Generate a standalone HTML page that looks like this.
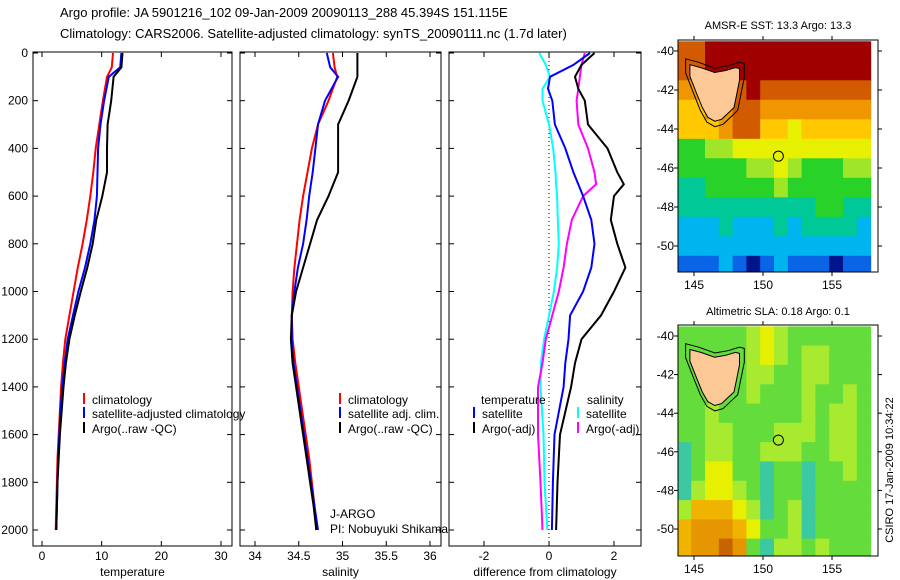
<!DOCTYPE html>
<html><head><meta charset="utf-8">
<style>
html,body{margin:0;padding:0;background:#fff;}
svg{display:block;font-family:"Liberation Sans",sans-serif;}
text{font-family:"Liberation Sans",sans-serif;}
</style></head>
<body>
<svg id="fig" width="900" height="580" viewBox="0 0 900 580">
<rect x="0" y="0" width="900" height="580" fill="#fff"/>
<text x="60" y="17" font-size="13">Argo profile: JA 5901216_102 09-Jan-2009 20090113_288 45.394S 151.115E</text>
<text x="60" y="38" font-size="13">Climatology: CARS2006. Satellite-adjusted climatology: synTS_20090111.nc (1.7d later)</text>
<text x="778" y="29" font-size="11" text-anchor="middle">AMSR-E SST: 13.3 Argo: 13.3</text>
<text x="778" y="315" font-size="11" text-anchor="middle">Altimetric SLA: 0.18 Argo: 0.1</text>
<text transform="translate(893,470) rotate(-90)" font-size="11" text-anchor="middle">CSIRO 17-Jan-2009 10:34:22</text>
<g id="plots"></g>
</svg>
<script>
// ---------- profile data ----------
const depths = [0,60,100,200,300,400,500,600,700,800,900,1000,1100,1200,1300,1400,1500,1600,1700,1800,1900,2000];
const tempClim = [11.9,11.7,10.9,10.2,9.6,9.0,8.6,8.1,7.5,6.8,6.0,5.3,4.6,3.9,3.5,3.2,3.0,2.8,2.6,2.5,2.4,2.3];
const tempSat  = [13.3,13.1,11.2,10.4,9.8,9.4,9.3,9.2,8.8,8.1,7.2,6.1,5.2,4.3,3.8,3.4,3.1,2.9,2.7,2.6,2.5,2.4];
const tempArgo = [13.5,13.3,12.0,11.6,11.0,10.9,10.9,10.1,9.1,8.5,7.6,6.5,5.5,4.6,4.0,3.6,3.3,3.0,2.8,2.6,2.5,2.4];
const salClim = [34.89,34.91,34.94,34.84,34.72,34.65,34.60,34.55,34.51,34.48,34.45,34.43,34.42,34.43,34.46,34.50,34.54,34.58,34.62,34.65,34.68,34.70];
const salSat  = [34.82,34.86,34.95,34.80,34.72,34.69,34.66,34.62,34.59,34.55,34.49,34.45,34.42,34.42,34.44,34.48,34.52,34.56,34.60,34.64,34.68,34.72];
const salArgo = [35.17,35.17,35.17,35.07,34.95,34.95,34.95,34.84,34.71,34.63,34.55,34.47,34.42,34.41,34.43,34.47,34.51,34.55,34.59,34.63,34.67,34.70];
const diffDepths = [0,50,100,150,200,300,400,500,550,600,700,800,900,1000,1100,1200,1300,1400,1600,1800,2000];
const diffTempSat  = [1.26,0.75,0.03,-0.03,0.1,0.18,0.5,0.75,0.9,1.05,1.3,1.4,1.3,1.05,0.65,0.6,0.5,0.45,0.17,0.12,0.09];
const diffTempArgo = [1.4,1.0,0.8,0.9,1.1,1.2,1.8,2.1,2.3,2.0,1.9,2.1,2.35,2.0,1.6,1.0,0.8,0.68,0.34,0.26,0.22];
const diffSalSat   = [-0.3,-0.1,0.03,-0.2,-0.2,0,0.13,0.2,0.22,0.25,0.27,0.3,0.25,0.15,0,-0.15,-0.25,-0.26,-0.17,-0.14,-0.05];
const diffSalArgo  = [1.1,1.0,0.95,0.9,0.85,0.9,1.2,1.4,1.45,1.05,0.7,0.55,0.45,0.3,0.1,-0.1,-0.2,-0.34,-0.34,-0.26,-0.2];
const depthTicks = [0,200,400,600,800,1000,1200,1400,1600,1800,2000];
const tempTicks = [0,10,20,30];
const salTicks = [34,34.5,35,35.5,36];
const diffTicks = [-2,0,2];
// ---------- map data (colour level 0..10) ----------
const mapLons = [144.3,145.3,146.3,147.3,148.3,149.3,150.3,151.3,152.3,153.3,154.3,155.3,156.3,157.3];
const mapLats = [-40,-41,-42,-43,-44,-45,-46,-47,-48,-49,-50,-51];
const sstLevels = [
[9,9,10,10,10,10,10,10,10,10,10,10,10,10],
[9,9,10,10,10,10,10,10,10,10,10,10,10,10],
[8,8,9,9,9,10,9,9,9,9,9,9,9,9],
[7,7,8,8,9,9,8,8,8,8,8,8,8,8],
[7,7,7,8,9,9,7,7,6,7,7,7,7,7],
[4,4,5,5,6,6,6,6,6,6,6,6,6,6],
[4,4,4,4,4,5,5,6,5,4,4,4,5,5],
[3,3,4,4,4,4,4,5,4,4,4,4,4,4],
[3,3,3,3,3,3,3,3,3,3,4,4,3,3],
[2,2,2,3,2,2,2,3,2,3,3,3,3,2],
[2,2,2,2,2,2,2,2,2,2,2,2,2,2],
[1,1,1,2,1,0,1,2,1,1,1,0,1,1]];
const slaLevels = [
[4,4,4,4,4,5,6,5,4,4,4,4,4,4],
[4,4,4,4,4,5,6,5,4,5,5,4,4,4],
[4,4,4,4,4,5,5,4,4,5,5,4,4,4],
[4,4,4,4,4,5,4,4,4,5,4,4,5,4],
[4,4,5,4,4,4,4,4,4,5,4,5,5,4],
[4,4,5,5,4,4,4,5,5,5,4,5,5,4],
[3,4,5,5,4,4,5,5,5,4,4,5,5,4],
[3,4,6,6,4,4,3,4,4,3,4,4,5,4],
[3,5,6,6,5,4,3,4,4,3,4,4,4,4],
[5,7,7,7,6,5,3,4,5,3,4,4,4,4],
[7,8,8,8,7,6,4,4,5,3,4,4,4,4],
[7,8,8,9,8,4,3,5,5,4,5,4,4,4]];
const lonTicks = [145,150,155];
const latTicks = [-40,-42,-44,-46,-48,-50];
const tasLon = [144.7,145.5,146.5,147.3,148.0,148.3,148.3,148.1,147.9,147.6,147.0,146.5,146.0,145.6,145.2,144.7];
const tasLat = [-40.7,-40.85,-41.1,-41.0,-40.85,-40.9,-41.5,-42.2,-42.9,-43.1,-43.5,-43.6,-43.4,-42.9,-42.2,-41.3];
const floatLon = 151.115, floatLat = -45.394;

const palette = ['#00148c','#0a64e6','#00b4f0','#00c896','#28d228','#a0e628','#e6f000','#ffc800','#f09600','#d25a00','#a00000'];
const slaPalette = ['#00148c','#0a64e6','#00c8dc','#3cc8a0','#64dc3c','#a8ea30','#e6f000','#f0b400','#e69600','#c86400','#a00000'];

const NS='http://www.w3.org/2000/svg';
const root=document.getElementById('plots');
function mk(tag,attrs,parent){const e=document.createElementNS(NS,tag);for(const k in attrs)e.setAttribute(k,attrs[k]);(parent||root).appendChild(e);return e;}

const yTop=53, yBot=530;
function yDepth(d){return yTop+(yBot-yTop)*d/2000;}
const panels=[
 {name:'temperature',x0:33,x1:232,v0:0,p0:42,v1:30,p1:221,ticks:tempTicks,label:'temperature'},
 {name:'salinity',x0:240,x1:441,v0:34,p0:255,v1:36,p1:430,ticks:salTicks,label:'salinity'},
 {name:'difference',x0:449,x1:641,v0:-2,p0:484,v1:2,p1:614,ticks:diffTicks,label:'difference from climatology'}];
function xf(p){return v=>p.p0+(v-p.v0)*(p.p1-p.p0)/(p.v1-p.v0);}
panels.forEach((p,i)=>{
 const g=mk('g',{});
 
 
 const fr=mk('rect',{x:p.x0,y:yTop-1,width:p.x1-p.x0,height:546-yTop+1,fill:'none',stroke:'#000','stroke-width':1},g);
 
 
 depthTicks.forEach(d=>{
  const y=yDepth(d);
  mk('line',{x1:p.x0,x2:p.x0+5,y1:y,y2:y,stroke:'#000'},g);
  mk('line',{x1:p.x1,x2:p.x1-5,y1:y,y2:y,stroke:'#000'},g);
  if(i===0){const t=mk('text',{x:p.x0-5,y:y+4,'font-size':12,'text-anchor':'end'},g);t.textContent=d;
   
   }
 });
 const X=xf(p);
 p.ticks.forEach(v=>{
  const x=X(v);
  mk('line',{x1:x,x2:x,y1:546,y2:541,stroke:'#000'},g);
  mk('line',{x1:x,x2:x,y1:yTop-1,y2:yTop+4,stroke:'#000'},g);
  const t=mk('text',{x:x,y:560,'font-size':12,'text-anchor':'middle'},g);t.textContent=v;
  
  
 });
 const lab=mk('text',{x:(p.x0+p.x1)/2,y:576,'font-size':12,'text-anchor':'middle'},g);lab.textContent=p.label;
 
 
 p.X=X;p.g=g;
});
function line(p,ds,vals,color,name){
 const pts=ds.map((d,k)=>p.X(vals[k]).toFixed(1)+','+yDepth(d).toFixed(1)).join(' ');
 const e=mk('polyline',{points:pts,fill:'none',stroke:color,'stroke-width':2},p.g);
 
 
}
const P=panels;
const zl=mk('line',{x1:P[2].X(0),x2:P[2].X(0),y1:yTop,y2:546,stroke:'#000','stroke-dasharray':'1,3'},P[2].g);


line(P[0],depths,tempClim,'#f00','temp-climatology-line');
line(P[0],depths,tempSat,'#00f','temp-satellite-line');
line(P[0],depths,tempArgo,'#000','temp-argo-line');
line(P[1],depths,salClim,'#f00','sal-climatology-line');
line(P[1],depths,salSat,'#00f','sal-satellite-line');
line(P[1],depths,salArgo,'#000','sal-argo-line');
line(P[2],diffDepths,diffSalSat,'#0ff','diff-sal-satellite-line');
line(P[2],diffDepths,diffSalArgo,'#f0f','diff-sal-argo-line');
line(P[2],diffDepths,diffTempSat,'#00f','diff-temp-satellite-line');
line(P[2],diffDepths,diffTempArgo,'#000','diff-temp-argo-line');

function legend(x,y,color,text,g){
 const e=mk('g',{},g);
 
 
 if(color) mk('line',{x1:x,x2:x,y1:y-11,y2:y,stroke:color,'stroke-width':2},e);
 const t=mk('text',{x:x+(color?8:0),y:y,'font-size':12},e);t.textContent=text;
}
legend(84,404,'#f00','climatology',P[0].g);
legend(84,418,'#00f','satellite-adjusted climatology',P[0].g);
legend(84,433,'#000','Argo(..raw -QC)',P[0].g);
legend(340,404,'#f00','climatology',P[1].g);
legend(340,418,'#00f','satellite adj. clim.',P[1].g);
legend(340,433,'#000','Argo(..raw -QC)',P[1].g);
legend(481,404,null,'temperature',P[2].g);
legend(474,418,'#00f','satellite',P[2].g);
legend(474,433,'#000','Argo(-adj)',P[2].g);
legend(587,404,null,'salinity',P[2].g);
legend(578,418,'#0ff','satellite',P[2].g);
legend(578,433,'#f0f','Argo(-adj)',P[2].g);
const j1=mk('text',{x:330,y:518,'font-size':12},P[1].g);j1.textContent='J-ARGO';


const j2=mk('text',{x:330,y:533,'font-size':12},P[1].g);j2.textContent='PI: Nobuyuki Shikama';



function drawMap(name,x0,x1,y0,y1,latA,yA,latB,yB,levels,pal){
 const g=mk('g',{});
 
 
 const cid='clip-'+name;
 const cp=mk('clipPath',{id:cid},g);mk('rect',{x:x0,y:y0,width:x1-x0,height:y1-y0},cp);
 const lonX=lon=>694+(lon-145)*(832-694)/10;
 const latY=lat=>yA+(lat-latA)*(yB-yA)/(latB-latA);
 const cells=mk('g',{'clip-path':'url(#'+cid+')'},g);
 levels.forEach((row,r)=>row.forEach((lv,c)=>{
  const xa=lonX(mapLons[c]-0.5), xb=lonX(mapLons[c]+0.5);
  const ya=latY(mapLats[r]+0.5), yb=latY(mapLats[r]-0.5);
  const e=mk('rect',{x:xa.toFixed(1),y:ya.toFixed(1),width:(xb-xa+0.6).toFixed(1),height:(yb-ya+0.6).toFixed(1),fill:pal[lv]},cells);
  
  
 }));
 const cen=[146.4,-42.2];
 const outer=tasLon.map((lo,k)=>lonX(cen[0]+(lo-cen[0])*1.18).toFixed(1)+','+latY(cen[1]+(tasLat[k]-cen[1])*1.2).toFixed(1)).join(' ');
 const ct=mk('polygon',{points:outer,fill:'none',stroke:'#000','stroke-width':1},cells);
 
 
 const land=mk('polygon',{points:tasLon.map((lo,k)=>lonX(lo).toFixed(1)+','+latY(tasLat[k]).toFixed(1)).join(' '),fill:'#fcc896',stroke:'#000','stroke-width':1},cells);
 
 
 const circ=mk('circle',{cx:lonX(floatLon),cy:latY(floatLat),r:5,fill:'none',stroke:'#000','stroke-width':1},g);
 
 
 const fr=mk('rect',{x:x0,y:y0,width:x1-x0,height:y1-y0,fill:'none',stroke:'#000'},g);
 
 
 lonTicks.forEach(lo=>{const x=lonX(lo);
  mk('line',{x1:x,x2:x,y1:y1,y2:y1+4,stroke:'#000'},g);
  mk('line',{x1:x,x2:x,y1:y0,y2:y0-4,stroke:'#000'},g);
  const t=mk('text',{x:x,y:y1+17,'font-size':12,'text-anchor':'middle'},g);t.textContent=lo;
  
  });
 latTicks.forEach(la=>{const y=latY(la);
  mk('line',{x1:x0,x2:x0-4,y1:y,y2:y,stroke:'#000'},g);
  mk('line',{x1:x1,x2:x1+4,y1:y,y2:y,stroke:'#000'},g);
  const t=mk('text',{x:x0-4,y:y+4,'font-size':12,'text-anchor':'end'},g);t.textContent=la;
  
  });
}
drawMap('sst',678,878,40,272,-40,51,-50,246,sstLevels,palette);
drawMap('sla',678,878,325,556,-40,336,-50,529,slaLevels,slaPalette);
</script>
</body></html>
